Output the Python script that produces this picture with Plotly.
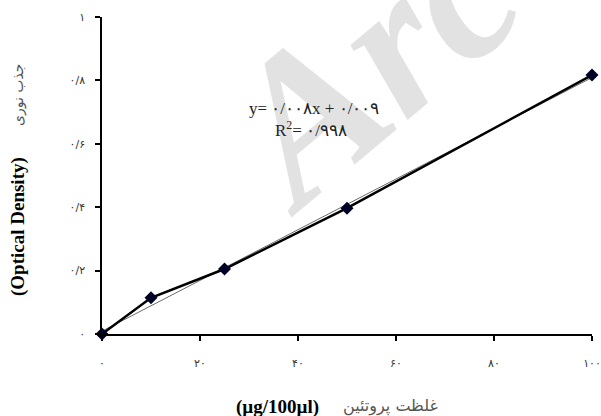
import plotly.graph_objects as go

# Data
concentration = [0, 10, 25, 50, 100]
optical_density = [0.0, 0.114, 0.205, 0.397, 0.817]
slope = 0.008
intercept = 0.009
trend_x = [0, 100]
trend_y = [intercept + slope * v for v in trend_x]

x_tick_vals = [0, 20, 40, 60, 80, 100]
x_tick_text = ["۰", "۲۰", "۴۰", "۶۰", "۸۰", "۱۰۰"]
y_tick_vals = [0, 0.2, 0.4, 0.6, 0.8, 1.0]
y_tick_text = ["۰", "۰/۲", "۰/۴", "۰/۶", "۰/۸", "۱"]

fig = go.Figure()

fig.add_trace(go.Scatter(
    x=trend_x, y=trend_y, mode="lines",
    line=dict(color="#6a6a6a", width=1),
    hoverinfo="skip", showlegend=False, cliponaxis=False,
))
fig.add_trace(go.Scatter(
    x=concentration, y=optical_density, mode="lines+markers",
    line=dict(color="#000000", width=2.5),
    marker=dict(symbol="diamond", size=10, color="#000026"),
    showlegend=False, cliponaxis=False,
))

serif = "Liberation Serif, Times New Roman, serif"
persian_font = "DejaVu Sans, sans-serif"


def px_x(p):
    return (p - 102) / 490


def px_y(p):
    return (334 - p) / 317


common = dict(xref="paper", yref="paper", showarrow=False, xanchor="center", yanchor="middle")

annotations = [
    # watermark
    dict(text="Arc", x=px_x(368), y=px_y(62), textangle=-40,
         font=dict(family=serif, size=205, color="#e2e2e2", style="italic", weight="bold"), **common),
    # regression equation
    dict(text="y= ۰/۰۰۸x + ۰/۰۰۹", x=px_x(314), y=px_y(108),
         font=dict(family=serif, size=17, color="#222222"), **common),
    dict(text="R<sup>2</sup>= ۰/۹۹۸", x=px_x(311), y=px_y(129),
         font=dict(family=serif, size=17, color="#222222"), **common),
    # y title
    dict(text="(Optical Density)", x=px_x(18), y=px_y(227), textangle=-90,
         font=dict(family=serif, size=19, color="#000000", weight="bold"), **common),
    dict(text="جذب نوری", x=px_x(18), y=px_y(95), textangle=-90,
         font=dict(family=persian_font, size=14, color="#555555"), **common),
    # x title
    dict(text="(µg/100µl)", x=px_x(277), y=px_y(407),
         font=dict(family=serif, size=19, color="#000000", weight="bold"), **common),
    dict(text="غلظت پروتئین", x=px_x(390), y=px_y(406),
         font=dict(family=persian_font, size=16, color="#555555"), **common),
]

fig.update_layout(
    width=601, height=416,
    margin=dict(l=102, r=9, t=17, b=82),
    paper_bgcolor="white", plot_bgcolor="white",
    annotations=annotations,
    xaxis=dict(
        range=[0, 100], tickvals=x_tick_vals, ticktext=x_tick_text, automargin=False,
        showgrid=False, zeroline=False, showline=True, linecolor="#000000", linewidth=1.5,
        ticks="outside", ticklen=5, tickcolor="#000000", tickwidth=1.5,
        ticklabelstandoff=13,
        tickfont=dict(family=persian_font, size=11, color="#333333"),
    ),
    yaxis=dict(
        range=[0, 1], tickvals=y_tick_vals, ticktext=y_tick_text, automargin=False,
        showgrid=False, zeroline=False, showline=True, linecolor="#000000", linewidth=1.5,
        ticks="outside", ticklen=5, tickcolor="#000000", tickwidth=1.5,
        ticklabelstandoff=8,
        tickfont=dict(family=persian_font, size=11, color="#333333"),
    ),
)

fig.write_html(
    "out.html",
    config={"displayModeBar": False},
    post_script="document.body.style.margin='0';document.body.style.overflow='hidden';",
)
